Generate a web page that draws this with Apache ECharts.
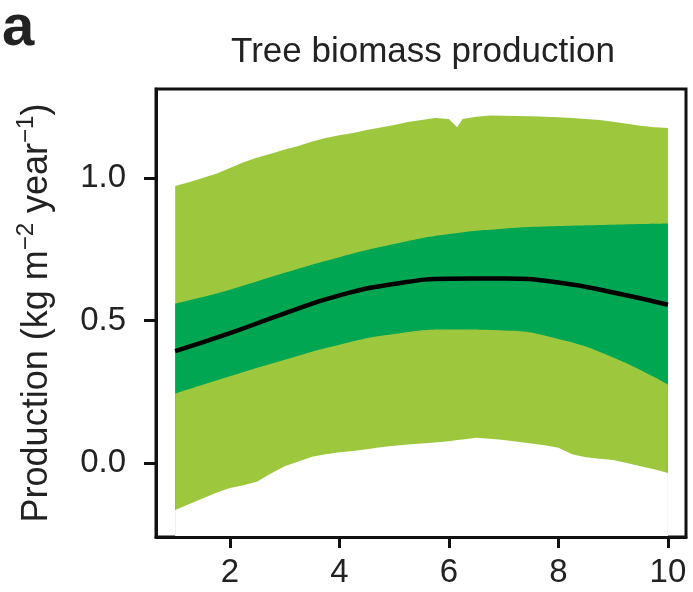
<!DOCTYPE html>
<html>
<head>
<meta charset="utf-8">
<script src="https://cdn.jsdelivr.net/npm/echarts@6/dist/echarts.min.js"></script>
<style>
html,body{margin:0;padding:0;background:#fff;}
#chart{width:693px;height:592px;}
</style>
</head>
<body>
<div id="chart"></div>
<script>
// ---- data ----
const titleText = 'Tree biomass production';
const panelLabel = 'a';
const xTicks = [2, 4, 6, 8, 10];
const yTicks = [0, 0.5, 1.0];

// outer (95%) band, jagged edges
const outerX  = [1.00,1.25,1.50,1.75,2.00,2.25,2.50,2.75,3.00,3.25,3.50,3.75,4.00,4.25,4.50,4.75,5.00,5.25,5.50,5.75,6.00,6.15,6.25,6.50,6.75,7.00,7.25,7.50,7.75,8.00,8.25,8.50,8.75,9.00,9.25,9.50,9.75,10.00];
const outerHi = [0.972,0.985,1.000,1.015,1.035,1.055,1.072,1.085,1.100,1.112,1.128,1.140,1.150,1.158,1.168,1.177,1.186,1.196,1.203,1.210,1.207,1.178,1.207,1.215,1.219,1.218,1.217,1.216,1.215,1.213,1.210,1.207,1.203,1.197,1.190,1.183,1.178,1.175];
const outerLo = [-0.165,-0.145,-0.125,-0.105,-0.088,-0.078,-0.065,-0.037,-0.012,0.005,0.022,0.030,0.037,0.042,0.048,0.055,0.060,0.065,0.068,0.072,0.076,0.080,0.082,0.088,0.085,0.080,0.074,0.068,0.062,0.053,0.030,0.020,0.015,0.010,0.000,-0.012,-0.022,-0.035];

// inner band and mean curve
const innerX  = [1,2,3,4,5,6,7,8,9,10];
const innerHi = [0.559,0.608,0.667,0.722,0.768,0.803,0.822,0.831,0.836,0.840];
const innerLo = [0.243,0.304,0.362,0.415,0.452,0.468,0.465,0.435,0.370,0.275];
const meanY   = [0.392,0.455,0.525,0.588,0.628,0.646,0.647,0.633,0.598,0.555];

// ---- chart ----
const FONT = '"Liberation Sans", Arial, Helvetica, sans-serif';
const LIGHT = '#9dc83e';
const DARK = '#00a651';

const pairs = (xs, ys) => xs.map((x, i) => [x, ys[i]]);

// layered fills from the bottom of the axis: later layers cover earlier ones
function fill(name, xs, ys, color, z, smooth) {
  return {
    name, type: 'line', data: pairs(xs, ys), symbol: 'none', smooth: !!smooth,
    lineStyle: {width: 0, opacity: 0},
    areaStyle: {color, opacity: 1, origin: 'start'},
    silent: true, z
  };
}

const chart = echarts.init(document.getElementById('chart'), null, {renderer: 'canvas'});
chart.setOption({
  animation: false,
  backgroundColor: '#ffffff',
  textStyle: {fontFamily: FONT},
  grid: {
    left: 156, right: 7, top: 89, bottom: 55,
    show: true, borderColor: '#111', borderWidth: 3, backgroundColor: 'transparent'
  },
  xAxis: {
    type: 'value', min: 0.65, max: 10.33, z: 10,
    splitLine: {show: false},
    axisLine: {show: true, onZero: false, lineStyle: {color: '#111', width: 3}},
    axisTick: {show: true, length: 11, customValues: xTicks, lineStyle: {color: '#111', width: 3}},
    axisLabel: {customValues: xTicks, margin: 19, fontSize: 33, color: '#222', fontFamily: FONT}
  },
  yAxis: {
    type: 'value', min: -0.26, max: 1.312, z: 10,
    splitLine: {show: false},
    axisLine: {show: true, onZero: false, lineStyle: {color: '#111', width: 3}},
    axisTick: {show: true, length: 12, customValues: yTicks, lineStyle: {color: '#111', width: 3}},
    axisLabel: {customValues: yTicks, margin: 30, fontSize: 33, color: '#222', fontFamily: FONT,
      formatter: v => v.toFixed(1)},
    name: '{n|Production (kg m}{s|−2}{n| year}{s|−1}{n|)}',
    nameLocation: 'middle', nameRotate: 90, nameGap: 96,
    nameTextStyle: {
      fontFamily: FONT, color: '#222',
      rich: {
        n: {fontSize: 36, lineHeight: 46, fontFamily: FONT, color: '#222'},
        s: {fontSize: 24, lineHeight: 24, verticalAlign: 'top', fontFamily: FONT, color: '#222'}
      }
    }
  },
  graphic: [
    {type: 'text', left: 2, top: 0, style: {text: panelLabel, font: 'bold 58px ' + FONT, fill: '#222'}},
    {type: 'text', x: 423, y: 52, style: {text: titleText, font: '35px ' + FONT, fill: '#222', align: 'center', verticalAlign: 'middle'}}
  ],
  series: [
    fill('outer upper', outerX, outerHi, LIGHT, 2, false),
    fill('inner upper', innerX, innerHi, DARK, 3, true),
    fill('inner lower', innerX, innerLo, LIGHT, 4, true),
    fill('outer lower', outerX, outerLo, '#ffffff', 5, false),
    {name: 'mean', type: 'line', data: pairs(innerX, meanY), symbol: 'none', smooth: true,
      lineStyle: {color: '#000', width: 4.5}, silent: true, z: 6}
  ]
});
</script>
</body>
</html>
